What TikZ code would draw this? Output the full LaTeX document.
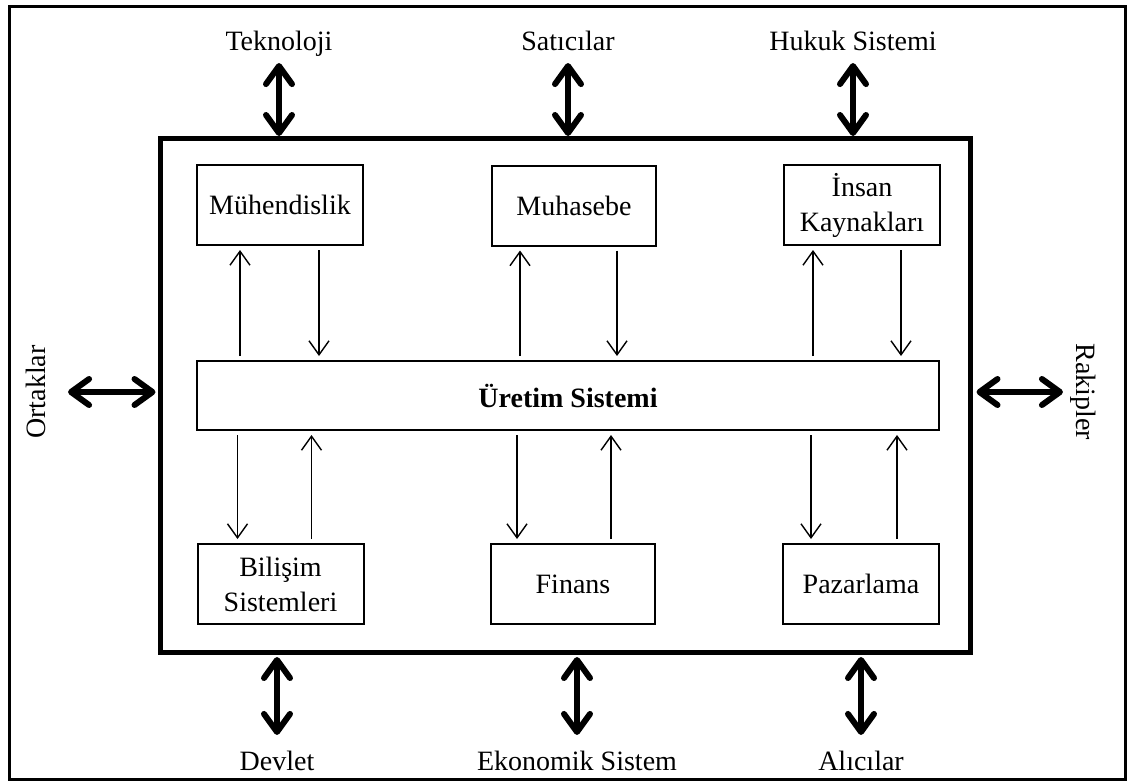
\documentclass[tikz,border=0pt]{standalone}
\usepackage{fontspec}
\setmainfont{Liberation Serif}
\usetikzlibrary{arrows.meta}

\tikzset{
  birim/.style={draw, line width=1pt, minimum width=83pt, minimum height=40pt,
    align=center, font=\fontsize{14}{17.5}\selectfont},
  cevre/.style={font=\fontsize{14}{17.5}\selectfont, text height=10pt, text depth=3pt},
  ince/.style={line width=0.7pt, -{Straight Barb[length=7pt,width=10pt]},
    shorten >=2pt, shorten <=2pt},
  kalin/.style={line width=3pt,
    {Straight Barb[length=9pt,width=13pt,round]}-{Straight Barb[length=9pt,width=13pt,round]}},
}

\begin{document}
\begin{tikzpicture}[x=0.5pt, y=-0.5pt]
        \useasboundingbox (0,0) rectangle (1127,782);
        \draw[line width=1.5pt] (9,6) rectangle (1125,779.5);

        % ana sistem
        \node [draw, line width=2.5pt,
            minimum width=405pt,
            minimum height=257pt,
        ] (ana) at (565,395.5) {};

        % Uretim Sistemi
        \node [draw, line width=1pt,
            minimum width=371pt,
            minimum height=34.5pt,
            font=\bfseries\fontsize{14}{17.5}\selectfont,
        ] (uretim) at (568,395.5) {Üretim Sistemi};

        % ust birimler
        \node [birim] (muh) at (280,205) {Mühendislik};
        \node [birim, minimum width=82pt] (muhasebe) at (574,205.5) {Muhasebe};
        \node [birim, minimum width=78pt] (insan) at (862,205) {İnsan\\Kaynakları};

        % alt birimler
        \node [birim] (bilisim) at (280.5,584) {Bilişim\\Sistemleri};
        \node [birim, minimum width=82pt] (finans) at (573,584) {Finans};
        \node [birim, minimum width=78pt] (pazar) at (861,584) {Pazarlama};

        \draw[ince] ([xshift=-20pt]uretim.north -| muh.south) -- ([xshift=-20pt]muh.south);
        \draw[ince] ([xshift=19.5pt]muh.south) -- ([xshift=19.5pt]uretim.north -| muh.south);
        \draw[ince] ([xshift=-27pt]uretim.north -| muhasebe.south) -- ([xshift=-27pt]muhasebe.south);
        \draw[ince] ([xshift=21.5pt]muhasebe.south) -- ([xshift=21.5pt]uretim.north -| muhasebe.south);
        \draw[ince] ([xshift=-24.5pt]uretim.north -| insan.south) -- ([xshift=-24.5pt]insan.south);
        \draw[ince] ([xshift=19.5pt]insan.south) -- ([xshift=19.5pt]uretim.north -| insan.south);

        \draw[ince] ([xshift=-21.5pt]uretim.south -| bilisim.north) -- ([xshift=-21.5pt]bilisim.north);
        \draw[ince] ([xshift=15.5pt]bilisim.north) -- ([xshift=15.5pt]uretim.south -| bilisim.north);
        \draw[ince] ([xshift=-28pt]uretim.south -| finans.north) -- ([xshift=-28pt]finans.north);
        \draw[ince] ([xshift=19pt]finans.north) -- ([xshift=19pt]uretim.south -| finans.north);
        \draw[ince] ([xshift=-25pt]uretim.south -| pazar.north) -- ([xshift=-25pt]pazar.north);
        \draw[ince] ([xshift=18pt]pazar.north) -- ([xshift=18pt]uretim.south -| pazar.north);

        % cevre
        \node [cevre] (teknoloji) at (279,43) {Teknoloji};
        \node [cevre] (satici) at (568,43) {Satıcılar};
        \node [cevre] (hukuk) at (853,43) {Hukuk Sistemi};
        \node [cevre] (devlet) at (277,763) {Devlet};
        \node [cevre] (ekonomi) at (577,763) {Ekonomik Sistem};
        \node [cevre] (alici) at (861,763) {Alıcılar};
        \node [cevre, rotate=90] (ortak) at (38,392) {Ortaklar};
        \node [cevre, rotate=-90] (rakip) at (1083,392) {Rakipler};

        \draw[kalin] (teknoloji.south) -- (teknoloji.south |- ana.north);
        \draw[kalin] (satici.south) -- (satici.south |- ana.north);
        \draw[kalin] (hukuk.south) -- (hukuk.south |- ana.north);
        \draw[kalin, shorten <=1pt, shorten >=4pt] (devlet.north |- ana.south) -- (devlet.north);
        \draw[kalin, shorten <=1pt, shorten >=4pt] (ekonomi.north |- ana.south) -- (ekonomi.north);
        \draw[kalin, shorten <=1pt, shorten >=4pt] (alici.north |- ana.south) -- (alici.north);
        \draw[kalin, shorten <=5pt, shorten >=1pt] (ortak.south) -- (ortak.south -| ana.west);
        \draw[kalin, shorten <=2pt] (rakip.south -| ana.east) -- (rakip.south);
\end{tikzpicture}
\end{document}
